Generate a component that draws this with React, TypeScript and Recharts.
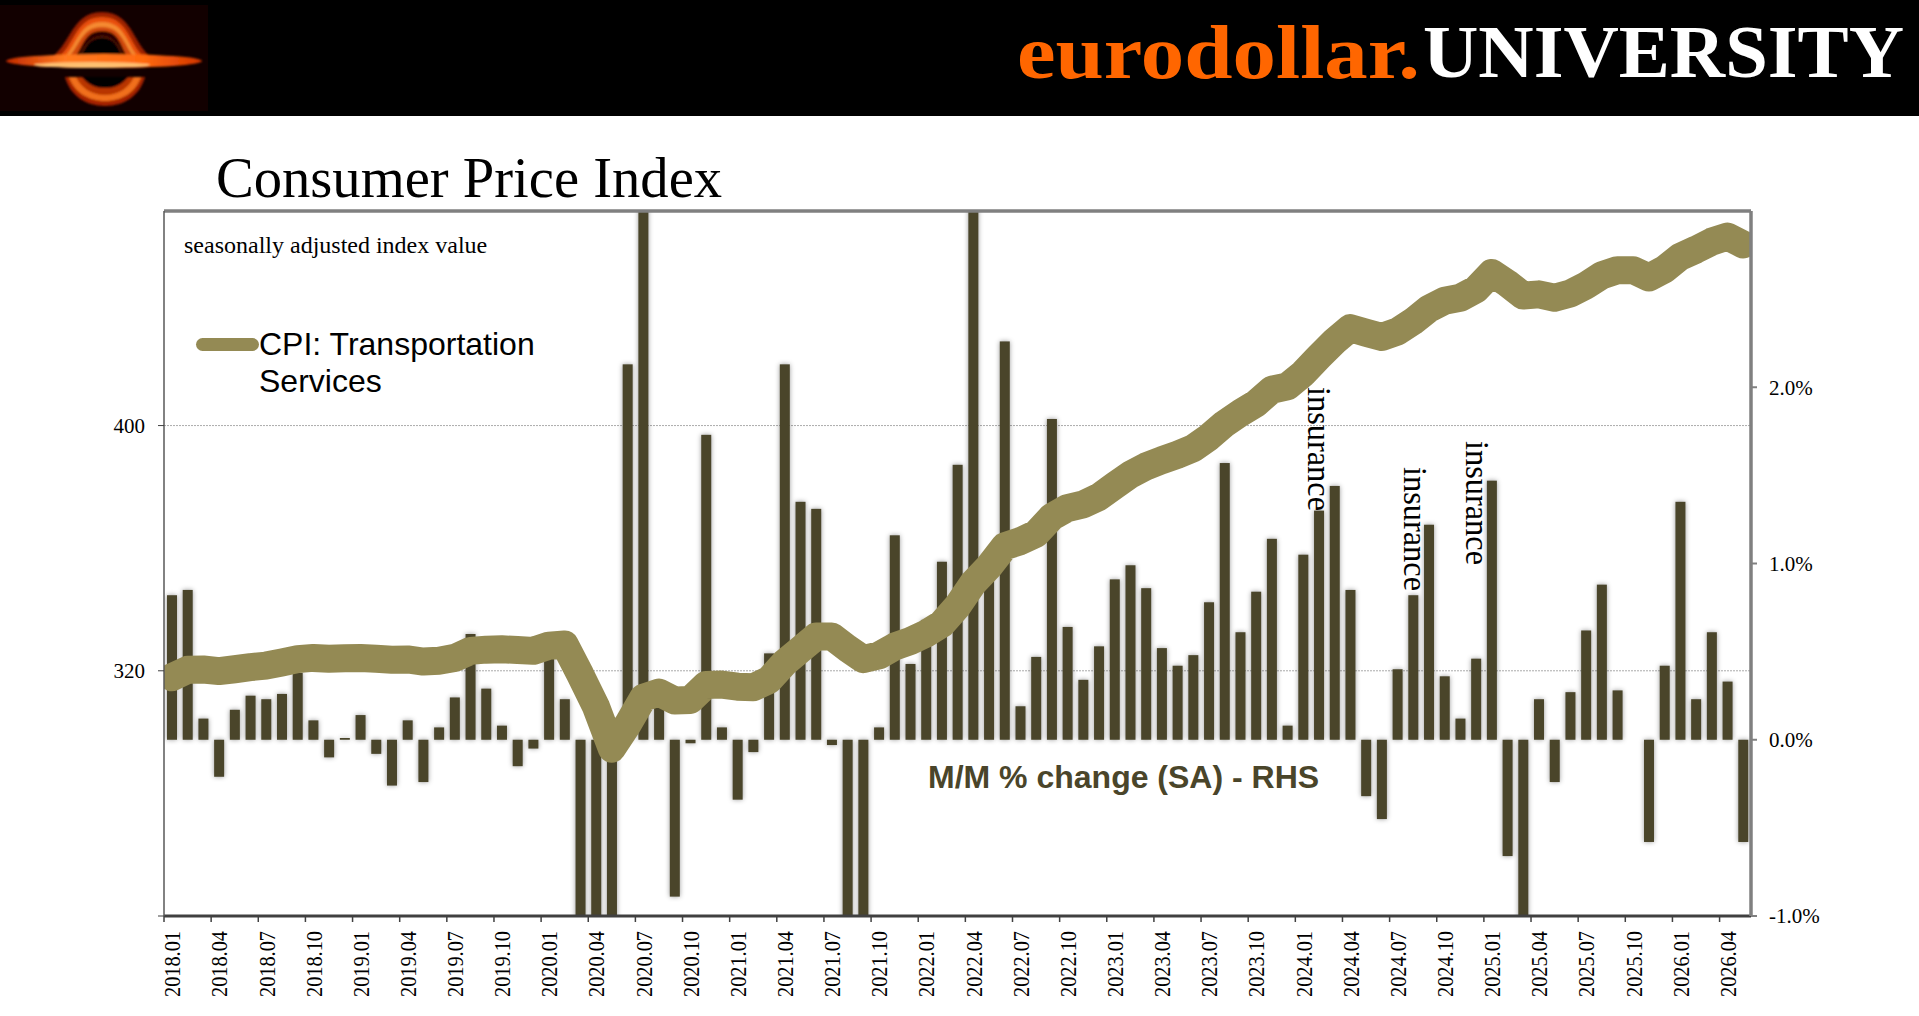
import { Bar, CartesianGrid, ComposedChart, Legend, Line, ReferenceLine, XAxis, YAxis } from "recharts";

const categories = [
  "2018.01", "2018.02", "2018.03", "2018.04", "2018.05", "2018.06", "2018.07", "2018.08", "2018.09", "2018.10", "2018.11", "2018.12",
  "2019.01", "2019.02", "2019.03", "2019.04", "2019.05", "2019.06", "2019.07", "2019.08", "2019.09", "2019.10", "2019.11", "2019.12",
  "2020.01", "2020.02", "2020.03", "2020.04", "2020.05", "2020.06", "2020.07", "2020.08", "2020.09", "2020.10", "2020.11", "2020.12",
  "2021.01", "2021.02", "2021.03", "2021.04", "2021.05", "2021.06", "2021.07", "2021.08", "2021.09", "2021.10", "2021.11", "2021.12",
  "2022.01", "2022.02", "2022.03", "2022.04", "2022.05", "2022.06", "2022.07", "2022.08", "2022.09", "2022.10", "2022.11", "2022.12",
  "2023.01", "2023.02", "2023.03", "2023.04", "2023.05", "2023.06", "2023.07", "2023.08", "2023.09", "2023.10", "2023.11", "2023.12",
  "2024.01", "2024.02", "2024.03", "2024.04", "2024.05", "2024.06", "2024.07", "2024.08", "2024.09", "2024.10", "2024.11", "2024.12",
  "2025.01", "2025.02", "2025.03", "2025.04", "2025.05", "2025.06", "2025.07", "2025.08", "2025.09", "2025.10", "2025.11", "2025.12",
  "2026.01", "2026.02", "2026.03", "2026.04", "2026.05",
];

// seasonally adjusted index
const cpiIndex = [
  317.9, 320.3, 320.4, 319.9, 320.5, 321.2, 321.7, 322.7, 323.8, 324.2, 323.9, 324.1,
  324.2, 323.9, 323.6, 323.7, 323.0, 323.3, 324.2, 326.5, 326.9, 327.0, 326.8, 326.5,
  328.2, 328.6, 318.7, 308.2, 294.6, 302.4, 311.2, 312.9, 310.3, 310.5, 315.4, 315.5,
  314.8, 314.6, 317.0, 322.6, 326.9, 331.2, 331.2, 327.3, 323.8, 325.0, 327.9, 329.7,
  332.1, 335.3, 341.1, 348.6, 354.0, 360.6, 362.3, 364.7, 370.2, 373.1, 374.3, 376.7,
  380.4, 384.0, 386.7, 388.7, 390.5, 392.6, 396.2, 400.6, 404.1, 407.2, 411.7, 412.8,
  417.0, 422.4, 427.5, 431.8, 430.3, 428.9, 430.7, 434.0, 438.1, 440.7, 441.7, 444.4,
  449.8, 446.4, 442.4, 442.8, 441.7, 443.1, 445.7, 449.0, 450.7, 450.7, 448.3, 451.0,
  455.1, 457.4, 460.0, 461.7, 459.1,
];

// m/m % change, right axis; bars past the frame are estimates, 2025.10 has no print
const momChange = [
  0.82, 0.85, 0.12, -0.21, 0.17, 0.25, 0.23, 0.26, 0.38, 0.11, -0.1, 0.01,
  0.14, -0.08, -0.26, 0.11, -0.24, 0.07, 0.24, 0.6, 0.29, 0.08, -0.15, -0.05,
  0.5, 0.23, -1.5, -3.2, -1.8, 2.13, 3.3, 0.25, -0.89, -0.02, 1.73, 0.07,
  -0.34, -0.07, 0.49, 2.13, 1.35, 1.31, -0.03, -1.4, -1.2, 0.07, 1.16, 0.43,
  0.68, 1.01, 1.56, 3.2, 1.0, 2.26, 0.19, 0.47, 1.82, 0.64, 0.34, 0.53,
  0.91, 0.99, 0.86, 0.52, 0.42, 0.48, 0.78, 1.57, 0.61, 0.84, 1.14, 0.08,
  1.05, 1.3, 1.44, 0.85, -0.32, -0.45, 0.4, 0.82, 1.22, 0.36, 0.12, 0.46,
  1.47, -0.66, -1.1, 0.23, -0.24, 0.27, 0.62, 0.88, 0.28, null, -0.58, 0.42,
  1.35, 0.23, 0.61, 0.33, -0.58,
];

const indexTicks = [240, 320, 400];
const changeTicks = [-1, 0, 1, 2];
const gridValues = [320, 400];
const INDEX_TOP = 470;

const chartData = categories.map((month, i) => ({ month, cpi: cpiIndex[i], change: momChange[i] }));

const SERIF = '"Liberation Serif", serif';
const SANS = '"Liberation Sans", sans-serif';
const OLIVE = "#948A54";
const BAR = "#4A452A";
const FRAME = "#808080";
const STEP = 1587 / categories.length;

// tick mark sits on the category boundary, label in the middle of the category
function MonthTick({ x, y, payload }: any) {
  return (
    <g>
      <line x1={x - STEP / 2} x2={x - STEP / 2} y1={y - 8} y2={y - 2} stroke="#404040" strokeWidth={1.5} />
      <text
        x={x}
        y={931}
        dy="0.35em"
        transform={`rotate(-90 ${x} 931)`}
        textAnchor="end"
        fontFamily={SERIF}
        fontSize={24}
        textLength={66}
        lengthAdjust="spacingAndGlyphs"
        fill="#000"
      >
        {payload.value}
      </text>
    </g>
  );
}

// each bar carries its own soft grey halo
function GlowBar({ x, y, width, height, fill }: any) {
  if (height == null) return null;
  return (
    <rect
      x={x}
      y={Math.min(y, y + height)}
      width={width}
      height={Math.abs(height)}
      fill={fill}
      style={{ filter: "drop-shadow(0 0 2.5px rgba(0,0,0,0.4))" }}
    />
  );
}

function CpiLegend({ payload }: any) {
  const item = payload?.[0];
  if (!item) return null;
  return (
    <div style={{ display: "flex", alignItems: "flex-start", fontFamily: SANS, fontSize: 32, lineHeight: "37px", color: "#000" }}>
      <span style={{ width: 63, height: 13, borderRadius: 7, background: item.color, marginTop: 12, flex: "none" }} />
      <span style={{ width: 310 }}>{item.value}</span>
    </div>
  );
}

function Header() {
  return (
    <svg width={1919} height={116} style={{ position: "absolute", left: 0, top: 0, display: "block" }}>
      <defs>
        <linearGradient id="disk" x1="0" x2="1" y1="0" y2="0">
          <stop offset="0" stopColor="#c22a00" />
          <stop offset="0.3" stopColor="#ff7a20" />
          <stop offset="0.7" stopColor="#ff6a10" />
          <stop offset="1" stopColor="#d23400" />
        </linearGradient>
        <filter id="soft" x="-10%" y="-30%" width="120%" height="160%">
          <feGaussianBlur stdDeviation="0.8" />
        </filter>
      </defs>
      <rect width={1919} height={116} fill="#000" />
      <rect x={0} y={5} width={208} height={106} fill="#120000" />
      <g filter="url(#soft)">
        <path d="M42 62 C72 52 68 12 102 12 C136 12 132 52 160 62 Z" fill="#9c2000" />
        <path d="M50 62 C76 52 72 17 102 17 C132 17 128 52 152 62 Z" fill="#e8500a" />
        <path d="M58 62 C78 50 76 22 102 22 C128 22 126 50 144 62 Z" fill="#f58a30" />
        <path d="M64 62 C80 48 80 27 102 27 C124 27 124 48 138 62 Z" fill="#d0480a" />
        <path d="M72 62 C84 46 84 31 102 31 C120 31 120 46 130 62 Z" fill="#2a0500" />
        <path d="M78 62 C84 46 90 37 102 37 C114 37 120 46 124 62 Z" fill="#000" stroke="#7a2410" strokeWidth={1} />
        <path d="M65 77 C70 95 85 106 105 106 C125 106 140 95 145 77 Z" fill="#a52400" />
        <path d="M69 77 C74 92 88 101 105 101 C122 101 136 92 141 77 Z" fill="#f0701a" />
        <path d="M76 77 C81 88 92 95 105 95 C118 95 129 88 134 77 Z" fill="#b83404" />
        <path d="M82 77 C88 85 96 88 105 88 C114 88 122 85 128 77 Z" fill="#000" />
        <ellipse cx={104} cy={61} rx={98} ry={7} fill="url(#disk)" />
        <ellipse cx={92} cy={65} rx={58} ry={3} fill="#ffc070" />
      </g>
      <text x={1017} y={78} fontFamily={SERIF} fontWeight={700} fontSize={76} fill="#FF6600" textLength={403} lengthAdjust="spacingAndGlyphs">
        eurodollar.
      </text>
      <text x={1423} y={77} fontFamily={SERIF} fontWeight={700} fontSize={74} fill="#FFFFFF" textLength={481} lengthAdjust="spacingAndGlyphs">
        UNIVERSITY
      </text>
    </svg>
  );
}

function Notes() {
  // free text laid over the plot, page coordinates
  const insurance = [
    { x: 1308, y: 387 },
    { x: 1404, y: 467 },
    { x: 1466, y: 441 },
  ];
  return (
    <svg width={1919} height={1016} style={{ position: "absolute", left: 0, top: 0, pointerEvents: "none" }}>
      <text x={216} y={197} fontFamily={SERIF} fontSize={56.6} fill="#000">
        Consumer Price Index
      </text>
      <text x={184} y={253} fontFamily={SERIF} fontSize={24} fill="#000">
        seasonally adjusted index value
      </text>
      <text x={928} y={788} fontFamily={SANS} fontWeight={700} fontSize={32} fill={BAR}>
        M/M % change (SA) - RHS
      </text>
      {insurance.map((n) => (
        <text
          key={n.x}
          x={n.x}
          y={n.y}
          transform={`rotate(90 ${n.x} ${n.y})`}
          fontFamily={SERIF}
          fontSize={33}
          textLength={124}
          lengthAdjust="spacingAndGlyphs"
          fill="#000"
        >
          insurance
        </text>
      ))}
    </svg>
  );
}

export default function App() {
  return (
    <div style={{ position: "relative", width: 1919, height: 1016, overflow: "hidden", background: "#fff" }}>
      <style>{"body{margin:0}"}</style>
      <Header />
      <div style={{ position: "absolute", left: 0, top: 0 }}>
        <ComposedChart width={1919} height={1016} data={chartData} margin={{ top: 211, right: 108, bottom: 20, left: 104 }}>
          <CartesianGrid
            yAxisId="index"
            horizontal
            vertical={false}
            horizontalValues={gridValues}
            stroke="#ABABAB"
            strokeDasharray="2 1"
          />
          <XAxis
            dataKey="month"
            interval={2}
            height={80}
            allowDataOverflow
            axisLine={{ stroke: "#404040", strokeWidth: 3 }}
            tickLine={false}
            tick={<MonthTick />}
          />
          <YAxis
            yAxisId="index"
            width={60}
            domain={[240, INDEX_TOP]}
            ticks={indexTicks}
            allowDataOverflow
            tickFormatter={(v: number) => (v === 240 ? "" : String(v))}
            tick={{ fontFamily: SERIF, fontSize: 21, fill: "#000" }}
            tickSize={6}
            tickMargin={13}
            axisLine={{ stroke: "#595959", strokeWidth: 1.5 }}
            tickLine={{ stroke: "#404040" }}
          />
          <YAxis
            yAxisId="change"
            orientation="right"
            width={60}
            domain={[-1, 3]}
            ticks={changeTicks}
            allowDataOverflow
            tickFormatter={(v: number) => `${v.toFixed(1)}%`}
            tick={{ fontFamily: SERIF, fontSize: 21, fill: "#000", textAnchor: "start" }}
            tickSize={6}
            tickMargin={12}
            axisLine={{ stroke: FRAME, strokeWidth: 3.5 }}
            tickLine={{ stroke: FRAME, strokeWidth: 2 }}
          />
          <ReferenceLine yAxisId="index" y={INDEX_TOP} stroke={FRAME} strokeWidth={3.5} />
          <Bar
            yAxisId="change"
            dataKey="change"
            name="M/M % change (SA) - RHS"
            fill={BAR}
            barSize={10}
            legendType="none"
            isAnimationActive={false}
            shape={<GlowBar />}
          />
          <Line
            yAxisId="index"
            dataKey="cpi"
            name="CPI: Transportation Services"
            type="linear"
            stroke={OLIVE}
            strokeWidth={28}
            strokeLinejoin="round"
            strokeLinecap="round"
            dot={false}
            activeDot={false}
            isAnimationActive={false}
          />
          <Legend
            layout="horizontal"
            verticalAlign="middle"
            content={<CpiLegend />}
            wrapperStyle={{ position: "absolute", left: 196, top: 326, width: 400, height: 80, margin: 0 }}
          />
        </ComposedChart>
      </div>
      <Notes />
    </div>
  );
}
